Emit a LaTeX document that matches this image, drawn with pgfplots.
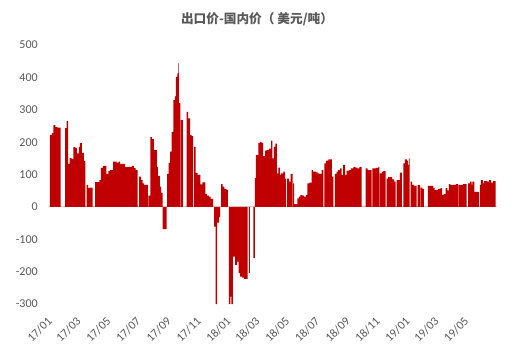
\documentclass[border=0pt]{standalone}
\usepackage{pgfplots}
\pgfplotsset{compat=1.18}
\usepackage{fontspec}
\setmainfont{Carlito}
\newfontfamily\cjk{Noto Sans CJK SC}
\definecolor{barred}{HTML}{C00000}
\definecolor{txtgray}{HTML}{595959}
\definecolor{zeroline}{HTML}{D9D9D9}
\begin{document}
\begin{tikzpicture}[x=1pt,y=1pt]
\path[use as bounding box] (0,0) rectangle (391.5,273);
\node[font=\cjk\bfseries\fontsize{9.5}{11}\selectfont, text=txtgray] at (192.75,258.75) {出口价-国内价（ 美元/吨）};
\begin{axis}[
  at={(37.47pt,117.75pt)}, anchor=origin, scale only axis,
  width=336.75pt, height=194.25pt,
  xmin=-4, xmax=912, ymin=-300, ymax=500,
  ytick={-300,-200,-100,0,100,200,300,400,500},
  xtick={0,59,120,181,243,304,365,424,485,546,608,669,730,789,850},
  xticklabels={17/01,17/03,17/05,17/07,17/09,17/11,18/01,18/03,18/05,18/07,18/09,18/11,19/01,19/03,19/05},
  axis line style={draw=none},
  major tick length=0pt,
  tick label style={font=\fontsize{9}{10}\selectfont, text=txtgray},
  /pgf/number format/assume math mode=true,
  yticklabel style={anchor=east, inner sep=0pt, xshift=-7.5pt},
  xticklabel style={rotate=45, anchor=north east, inner sep=0pt, xshift=-8pt, yshift=-4.5pt},
  extra y ticks={0}, extra y tick labels={},
  extra y tick style={grid=major},
  major grid style={draw=zeroline, line width=0.75pt},
  clip=false,
]
\addplot[ybar interval=0.85, fill=barred, draw=none] coordinates {
(0,222) (4,228) (7,253) (11,247) (15,245) (22,0) (31,244) (34,265) (37,133) (40,151)
(44,148) (48,185) (52,182) (55,166) (59,186) (61,197) (65,167) (69,142) (72,0) (75,68)
(78,59) (83,60) (87,0) (92,77) (101,83) (104,121) (108,127) (115,102) (119,111) (122,114)
(129,140) (136,137) (140,140) (143,133) (153,124) (167,127) (171,120) (175,114) (179,0) (182,94)
(186,83) (189,73) (192,68) (200,0) (201,35) (205,216) (208,210) (212,176) (218,124) (220,96)
(224,63) (227,44) (230,-68) (238,0) (239,102) (242,136) (245,171) (248,232) (252,330) (255,342)
(257,402) (260,413) (262,444) (263,321) (266,0) (267,268) (271,0) (279,294) (282,274) (286,222)
(289,219) (292,0) (294,186) (297,105) (301,99) (307,70) (311,76) (317,40) (320,35) (324,32)
(328,25) (333,0) (335,-61) (338,-300) (341,-48) (345,-31) (347,0) (349,71) (352,63) (356,56)
(360,53) (363,0) (365,-300) (368,-277) (370,-300) (373,-153) (378,-179) (382,-169) (385,-204) (388,-215)
(392,-218) (396,-222) (403,0) (406,-204) (408,0) (415,-158) (418,89) (420,160) (425,198) (429,201)
(432,198) (435,157) (439,174) (442,176) (447,180) (451,205) (454,150) (457,186) (460,196) (463,104)
(466,122) (469,99) (471,104) (476,109) (479,88) (482,0) (484,88) (488,78) (491,102) (495,0)
(496,73) (498,9) (505,27) (508,32) (511,37) (515,35) (518,32) (522,37) (525,73) (529,75)
(534,114) (537,109) (543,107) (546,104) (549,102) (554,114) (558,0) (560,135) (563,143) (568,147)
(575,94) (578,0) (581,102) (585,109) (588,114) (592,119) (595,99) (598,130) (602,99) (605,112)
(611,114) (614,119) (619,124) (623,122) (627,119) (631,124) (636,0) (644,119) (648,114) (656,0)
(658,119) (665,121) (670,124) (672,0) (673,104) (677,109) (680,111) (685,0) (687,88) (690,92)
(698,85) (702,78) (705,0) (707,83) (714,106) (718,0) (721,135) (724,147) (728,143) (730,130)
(732,150) (734,0) (736,78) (739,68) (743,65) (748,0) (750,68) (755,0) (756,60) (760,56)
(763,0) (771,65) (782,58) (785,52) (792,56) (797,58) (800,37) (803,40) (807,58) (811,51)
(814,71) (817,68) (828,71) (832,0) (833,68) (843,71) (850,0) (853,73) (857,78) (860,68)
(862,78) (866,47) (875,0) (877,68) (879,83) (883,73) (885,80) (892,78) (896,83) (900,75)
(904,80) (909,0)
};
\end{axis}
\end{tikzpicture}
\end{document}
